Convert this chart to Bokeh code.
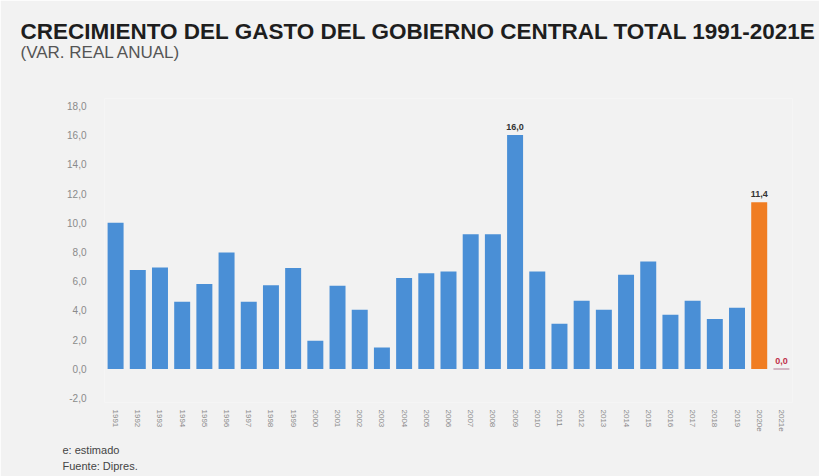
from bokeh.plotting import figure
from bokeh.models import FactorRange, Range1d, FixedTicker, Label, ColumnDataSource
from bokeh.core.properties import value
from bokeh.embed import file_html
from bokeh.resources import INLINE

years = [str(y) for y in range(1991, 2020)] + ["2020e", "2021e"]
growth = [10.0, 6.76, 6.94, 4.59, 5.8, 7.97, 4.6, 5.73, 6.9, 1.92,
          5.68, 4.04, 1.46, 6.21, 6.55, 6.66, 9.22, 9.22, 16.0, 6.66,
          3.08, 4.66, 4.04, 6.44, 7.35, 3.7, 4.66, 3.42, 4.18, 11.4, 0.0]
bar_colors = ["#4a8fd6"] * 29 + ["#f07d22", "#4a8fd6"]
bar_lines = [None] * 30 + ["#c8a2b4"]
label_years = ["2009", "2020e", "2021e"]
label_colors = ["#333333", "#333333", "#c0304a"]
y_ticks = [-2, 0, 2, 4, 6, 8, 10, 12, 14, 16, 18]

title_text = "CRECIMIENTO DEL GASTO DEL GOBIERNO CENTRAL TOTAL 1991-2021E"
subtitle_text = "(VAR. REAL ANUAL)"
notes = ["e: estimado", "Fuente: Dipres."]

def fmt(v):
    return f"{v:.1f}".replace(".", ",")

FONT = "Liberation Sans"
W, H = 819, 476
BL, BR, BT, BB = 104, 27, 98, 74
Y0, Y1 = -2.3, 18.5

p = figure(width=W, height=H, x_range=FactorRange(*years, range_padding=0),
           y_range=Range1d(Y0, Y1), output_backend="svg", toolbar_location=None,
           min_border_left=BL, min_border_right=BR, min_border_top=BT, min_border_bottom=BB,
           background_fill_color="#f2f2f2", border_fill_color="#f2f2f2", outline_line_color=None)
p.title.visible = False

src = ColumnDataSource(dict(x=years, top=growth, color=bar_colors, line=bar_lines))
p.vbar(x="x", top="top", bottom=0, width=0.72, fill_color="color", line_color="line",
       line_width=1.5, source=src)

lab = ColumnDataSource(dict(
    x=label_years,
    y=[growth[years.index(k)] for k in label_years],
    t=[fmt(growth[years.index(k)]) for k in label_years],
    c=label_colors))
p.text(x="x", y="y", text="t", text_color="c", source=lab, text_align="center",
       text_baseline="bottom", y_offset=-5, text_font_size="9px", text_font_style="bold",
       text_font=value(FONT))

p.xgrid.visible = False
p.ygrid.visible = False

p.yaxis.ticker = FixedTicker(ticks=y_ticks)
p.yaxis.major_label_overrides = {t: fmt(t) for t in y_ticks}
p.yaxis.axis_line_color = None
p.yaxis.major_tick_line_color = None
p.yaxis.minor_tick_line_color = None
p.yaxis.major_label_standoff = 12
p.yaxis.major_label_text_font_size = "10px"
p.yaxis.major_label_text_color = "#8a8a8a"
p.yaxis.major_label_text_font = FONT

p.xaxis.axis_line_color = None
p.xaxis.major_tick_line_color = None
p.xaxis.major_label_orientation = "vertical"
p.xaxis.major_label_standoff = 1
p.xaxis.major_label_text_font_size = "8px"
p.xaxis.major_label_text_color = "#8a8a8a"
p.xaxis.major_label_text_font = FONT

frame_h = H - BT - BB

def canvas_y(cy):
    # canvas pixel row -> y-axis units (for placing texts outside the frame)
    return Y1 - (cy - BT) * (Y1 - Y0) / frame_h

def add_text(text, cx, cy, size, color, side, style="normal"):
    p.add_layout(Label(x=cx - BL, y=canvas_y(cy), x_units="screen", y_units="data",
                       text=text, text_font_size=size, text_color=color,
                       text_font=FONT, text_font_style=style, text_baseline="alphabetic"), side)

add_text(title_text, 20, 31, "22.5px", "#1e1e1e", "above", "bold")
add_text(subtitle_text, 20, 52, "17px", "#555555", "above")
add_text(notes[0], 62, 449, "11px", "#444444", "below")
add_text(notes[1], 62, 465, "11px", "#444444", "below")

open("out.html", "w").write(file_html(p, INLINE))
